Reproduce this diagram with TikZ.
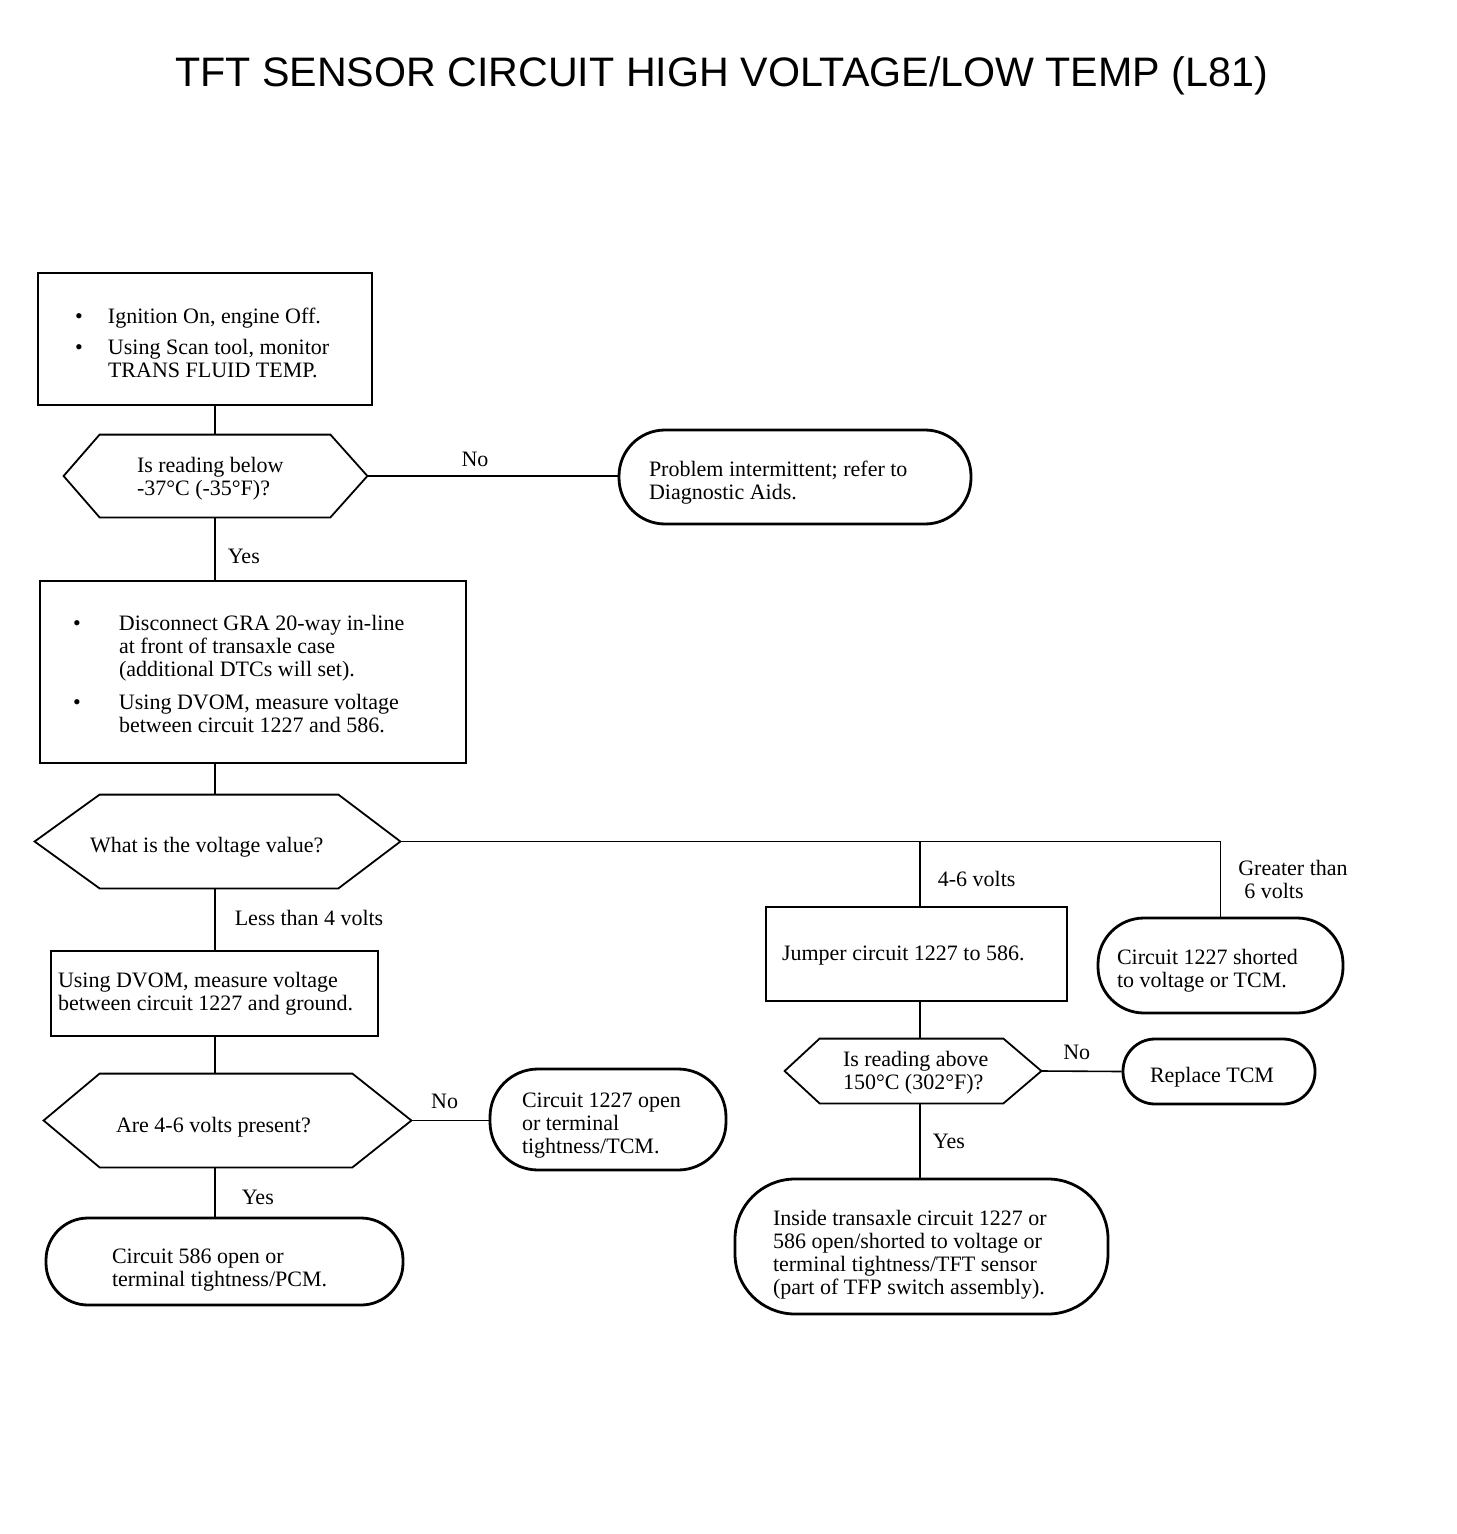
\documentclass[tikz,border=0pt]{standalone}
\usepackage{fontspec}
\setmainfont{Liberation Serif}
\newfontfamily\titlefont{Liberation Sans}
\usetikzlibrary{calc}

% [drop], margin, column width, lines
\newcommand{\tx}[4][3pt]{\raisebox{-#1}[\height][\depth]{\begin{tabular}{@{\hspace{#2}}p{#3}@{}}#4\end{tabular}}}
\newcommand{\bul}[1]{\makebox[#1][l]{\textbullet}}

\tikzset{
  every node/.style={font=\fontsize{11}{11.5}\selectfont},
  txt/.style={inner sep=0pt},
  box/.style={txt, draw, line width=1.3pt},
  oval/.style={txt, draw, line width=1.4pt, rounded corners=#1},
  dec/.style={txt},
  hexline/.style={line width=0.9pt, line join=miter},
  line/.style={line width=0.8pt},
  lbl/.style={inner sep=1pt},
}

\begin{document}
\begin{tikzpicture}[x=0.5pt,y=-0.5pt]
\path[fill=white, use as bounding box] (0,0) rectangle (1456,1534);

\node[font=\titlefont\fontsize{20.6}{25}\selectfont] (title) at (721.5,76) {TFT SENSOR CIRCUIT HIGH VOLTAGE/LOW TEMP (L81)};

% left column
\node[box, minimum width=167pt, minimum height=66pt] (start) at (205,339)
  {\tx[3.5pt]{18.5pt}{148.5pt}{\bul{16.5pt}Ignition On, engine Off.\\[4pt]\bul{16.5pt}Using Scan tool, monitor\\\hspace*{16.5pt}TRANS FLUID TEMP.}};
\node[dec, minimum width=151.5pt, minimum height=41pt] (below) at (215.5,476)
  {\tx[1.8pt]{36.5pt}{115pt}{Is reading below\\-37°C (-35°F)?}};
\node[oval=23pt, minimum width=176pt, minimum height=47pt] (intermit) at (795,477)
  {\tx{15pt}{161pt}{Problem intermittent; refer to\\Diagnostic Aids.}};
\node[box, minimum width=213pt, minimum height=91pt] (disconn) at (253,672)
  {\tx[2.5pt]{16.5pt}{196.5pt}{\bul{23pt}Disconnect GRA 20-way in-line\\\hspace*{23pt}at front of transaxle case\\\hspace*{23pt}(additional DTCs will set).\\[5pt]\bul{23pt}Using DVOM, measure voltage\\\hspace*{23pt}between circuit 1227 and 586.}};
\node[dec, minimum width=182.5pt, minimum height=46.5pt] (value) at (217.5,841.5)
  {\tx{27.5pt}{155pt}{What is the voltage value?}};
\node[box, minimum width=163.5pt, minimum height=42.5pt] (ground) at (214.5,993.5)
  {\tx[0.5pt]{3.5pt}{160pt}{Using DVOM, measure voltage\\between circuit 1227 and ground.}};
\node[dec, minimum width=183.5pt, minimum height=46.5pt] (present) at (227.5,1120.5)
  {\tx[3.5pt]{36pt}{147.5pt}{Are 4-6 volts present?}};
\node[oval=24pt, minimum width=118pt, minimum height=50.5pt] (open1227) at (608,1119.5)
  {\tx{16pt}{102pt}{Circuit 1227 open\\or terminal\\tightness/TCM.}};
\node[oval=21pt, minimum width=178.5pt, minimum height=43.5pt] (open586) at (224.5,1261.5)
  {\tx[4.5pt]{33pt}{145.5pt}{Circuit 586 open or\\terminal tightness/PCM.}};

% right column
\node[box, minimum width=150.5pt, minimum height=47pt] (jumper) at (916.5,954)
  {\tx[1pt]{8pt}{142.5pt}{Jumper circuit 1227 to 586.}};
\node[oval=23pt, minimum width=122.5pt, minimum height=47.5pt] (shorted) at (1220.5,965.5)
  {\tx{9.5pt}{113pt}{Circuit 1227 shorted\\to voltage or TCM.}};
\node[dec, minimum width=128pt, minimum height=32pt] (above) at (913,1071)
  {\tx[1pt]{29pt}{99pt}{Is reading above\\150°C (302°F)?}};
\node[oval=16pt, minimum width=96pt, minimum height=32.5pt] (tcm) at (1219,1071.5)
  {\tx{13.5pt}{82.5pt}{Replace TCM}};
\node[oval=30pt, minimum width=186.5pt, minimum height=67.5pt] (inside) at (921.5,1246.5)
  {\tx[4.5pt]{19pt}{167.5pt}{Inside transaxle circuit 1227 or\\586 open/shorted to voltage or\\terminal tightness/TFT sensor\\(part of TFP switch assembly).}};

% decision outlines
\foreach \n/\l/\r in {below/36/37, value/65/62, present/56/59, above/35/38}
  \draw[hexline] (\n.west) -- ($(\n.north west)+(\l,0)$) -- ($(\n.north east)+(-\r,0)$)
    -- (\n.east) -- ($(\n.south east)+(-\r,0)$) -- ($(\n.south west)+(\l,0)$) -- cycle;

% connectors
\coordinate (lcol) at (215,0);
\coordinate (rcol) at (920,0);
\draw[line] (start.south -| lcol) -- (below.north -| lcol);
\draw[line] (below.east) -- (below.east -| intermit.west) node[lbl, above=3pt, pos=0.43] {No};
\draw[line] (below.south -| lcol) -- (disconn.north -| lcol) node[lbl, right=5pt, pos=0.62] {Yes};
\draw[line] (disconn.south -| lcol) -- (value.north -| lcol);
\draw[line] (value.east) -- (value.east -| shorted.north) -- (shorted.north) node[lbl, right=7.5pt, pos=0.5, align=left] {Greater than\\\hspace*{3pt}6 volts};
\draw[line] (value.east -| rcol) -- (jumper.north -| rcol) node[lbl, right=7.5pt, pos=0.58] {4-6 volts};
\draw[line] (value.south -| lcol) -- (ground.north -| lcol) node[lbl, right=8.5pt, pos=0.48] {Less than 4 volts};
\draw[line] (ground.south -| lcol) -- (present.north -| lcol);
\draw[line] (present.east) -- (present.east -| open1227.west) node[lbl, above=4.5pt, pos=0.43] {No};
\draw[line] (present.south -| lcol) -- (open586.north -| lcol) node[lbl, right=12pt, pos=0.6] {Yes};
\draw[line] (jumper.south -| rcol) -- (above.north -| rcol);
\draw[line] (above.east) -- (tcm.west) node[lbl, above=4.5pt, pos=0.44] {No};
\draw[line] (above.south -| rcol) -- (inside.north -| rcol) node[lbl, right=5pt, pos=0.51] {Yes};
\end{tikzpicture}
\end{document}
